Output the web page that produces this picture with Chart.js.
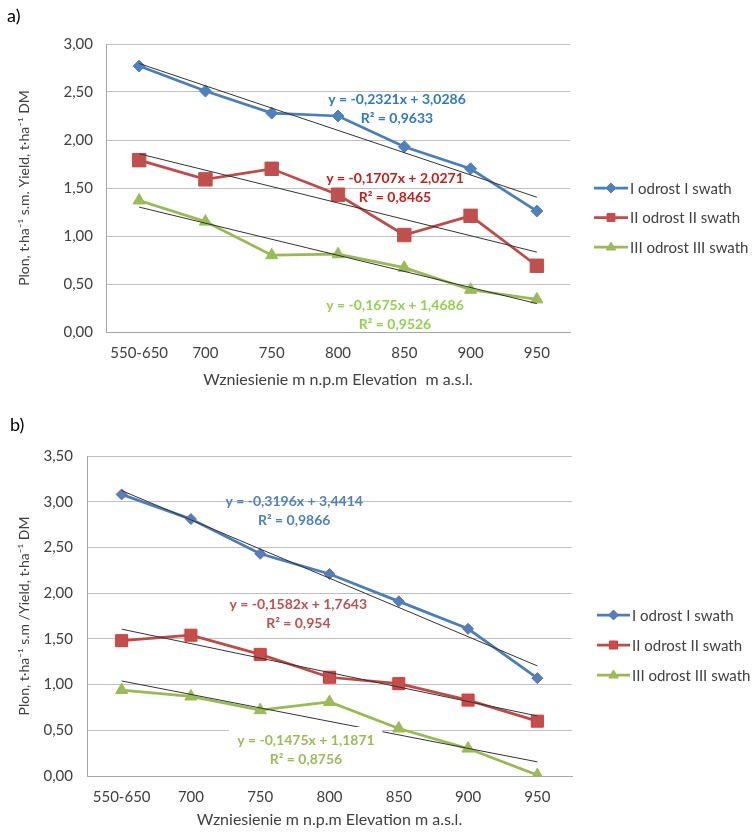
<!DOCTYPE html>
<html>
<head>
<meta charset="utf-8">
<script src="https://cdn.jsdelivr.net/npm/chart.js@4/dist/chart.umd.min.js"></script>
<style>
  html, body { margin: 0; padding: 0; background: #ffffff; }
  .panel { width: 752px; position: relative; }
  canvas { display: block; }
</style>
</head>
<body>
<div class="panel" style="height:400px"><canvas id="chartA" width="752" height="400"></canvas></div>
<div class="panel" style="height:432px"><canvas id="chartB" width="752" height="432"></canvas></div>
<script>
// Elevation classes (m a.s.l.)
const categories = ['550-650', '700', '750', '800', '850', '900', '950'];
const seriesNames = ['I odrost I swath', 'II odrost II swath', 'III odrost III swath'];

// Panel a) yields, t/ha DM
const yieldA1 = [2.77, 2.51, 2.28, 2.25, 1.93, 1.70, 1.26];
const yieldA2 = [1.79, 1.59, 1.70, 1.43, 1.01, 1.21, 0.69];
const yieldA3 = [1.37, 1.15, 0.80, 0.81, 0.67, 0.44, 0.34];
// linear trend: [slope, intercept, R²]
const trendA1 = [-0.2321, 3.0286, 0.9633];
const trendA2 = [-0.1707, 2.0271, 0.8465];
const trendA3 = [-0.1675, 1.4686, 0.9526];
const yTicksA = [0, 0.5, 1, 1.5, 2, 2.5, 3];

// Panel b) yields, t/ha DM
const yieldB1 = [3.08, 2.81, 2.43, 2.21, 1.91, 1.61, 1.07];
const yieldB2 = [1.48, 1.54, 1.33, 1.08, 1.01, 0.83, 0.60];
const yieldB3 = [0.94, 0.87, 0.72, 0.81, 0.52, 0.30, 0.01];
const trendB1 = [-0.3196, 3.4414, 0.9866];
const trendB2 = [-0.1582, 1.7643, 0.954];
const trendB3 = [-0.1475, 1.1871, 0.8756];
const yTicksB = [0, 0.5, 1, 1.5, 2, 2.5, 3, 3.5];

const FONT = 'Lato';
const TEXT = '#404040';
const lineColors = ['#4a7ebb', '#be4b48', '#98b954'];
const markerFills = ['#4f81bd', '#c0504d', '#9bbb59'];
const markerStyles = ['rectRot', 'rect', 'triangle'];

const fmt = v => String(v).replace('.', ',');
const eqLines = t => ['y = ' + fmt(t[0]) + 'x + ' + fmt(t[1]), 'R\u00b2 = ' + fmt(t[2])];
// trend line evaluated at the first and last class (x = 1 .. n)
const trendPoints = t => categories.map((c, i) =>
  (i === 0 || i === categories.length - 1) ? +(t[1] + t[0] * (i + 1)).toFixed(4) : null);

function drawMarker(ctx, style, x, y, r, fill, stroke) {
  ctx.save();
  ctx.fillStyle = fill;
  ctx.strokeStyle = stroke;
  ctx.lineWidth = 1;
  ctx.beginPath();
  if (style === 'rectRot') {
    ctx.moveTo(x, y - r); ctx.lineTo(x + r, y); ctx.lineTo(x, y + r); ctx.lineTo(x - r, y);
  } else if (style === 'rect') {
    ctx.rect(x - r * 0.8, y - r * 0.8, r * 1.6, r * 1.6);
  } else {
    ctx.moveTo(x, y - r); ctx.lineTo(x + r * 0.95, y + r * 0.6); ctx.lineTo(x - r * 0.95, y + r * 0.6);
  }
  ctx.closePath();
  ctx.fill();
  ctx.stroke();
  ctx.restore();
}

const decoPlugin = {
  id: 'deco',
  afterDatasetDraw(chart, args, opts) {
    const ds = chart.data.datasets[args.index];
    if (!opts.mask || !ds.isTrend) return;
    const { x, y } = chart.scales;
    const m = opts.mask;
    const l = x.getPixelForValue(m.x0), r = x.getPixelForValue(m.x1);
    const t = y.getPixelForValue(m.y1), b = y.getPixelForValue(m.y0);
    const ctx = chart.ctx;
    ctx.save();
    ctx.fillStyle = '#ffffff';
    ctx.fillRect(l, t, r - l, b - t);
    ctx.restore();
  },
  afterDatasetsDraw(chart, args, opts) {
    const { x, y } = chart.scales;
    const ctx = chart.ctx;
    ctx.save();
    ctx.font = 'bold 14px ' + FONT;
    ctx.textAlign = 'center';
    ctx.textBaseline = 'middle';
    opts.equations.forEach(eq => {
      const px = x.getPixelForValue(eq.at[0]);
      const py = y.getPixelForValue(eq.at[1]);
      const lines = eqLines(eq.trend);
      ctx.fillStyle = eq.color;
      ctx.fillText(lines[0], px, py);
      ctx.fillText(lines[1], px, py + 19);
    });
    ctx.restore();
  },
  afterDraw(chart, args, opts) {
    const ctx = chart.ctx;
    ctx.save();
    // panel letter
    ctx.font = '18px ' + FONT;
    ctx.fillStyle = '#000000';
    ctx.textAlign = 'left';
    ctx.textBaseline = 'middle';
    ctx.fillText(opts.letter.text, opts.letter.x, opts.letter.y);
    // legend: line sample with marker, then name
    const lg = opts.legend;
    ctx.font = '15px ' + FONT;
    seriesNames.forEach((name, i) => {
      const yy = lg.y + i * lg.gap;
      ctx.strokeStyle = lineColors[i];
      ctx.lineWidth = 2.75;
      ctx.beginPath();
      ctx.moveTo(lg.x, yy);
      ctx.lineTo(lg.x + lg.len, yy);
      ctx.stroke();
      drawMarker(ctx, markerStyles[i], lg.x + lg.len / 2, yy, 5, markerFills[i], opts.markerBorders[i]);
      ctx.fillStyle = TEXT;
      ctx.textAlign = 'left';
      ctx.fillText(name, lg.x + lg.len + 2, yy + 1);
    });
    ctx.restore();
  }
};

function buildChart(id, cfg) {
  const datasets = [];
  cfg.series.forEach((vals, i) => {
    datasets.push({
      label: seriesNames[i],
      data: vals,
      borderColor: lineColors[i],
      backgroundColor: markerFills[i],
      borderWidth: 2.75,
      tension: 0,
      pointStyle: markerStyles[i],
      pointRadius: cfg.markerRadius[i],
      pointBackgroundColor: markerFills[i],
      pointBorderColor: cfg.markerBorders[i],
      pointBorderWidth: 1,
      order: 2
    });
  });
  cfg.trends.forEach(t => {
    datasets.push({
      label: 'trend',
      isTrend: true,
      data: trendPoints(t),
      borderColor: '#333333',
      borderWidth: 1,
      pointRadius: 0,
      spanGaps: true,
      tension: 0,
      order: 1
    });
  });

  return new Chart(document.getElementById(id), {
    type: 'line',
    data: { labels: categories, datasets },
    plugins: [decoPlugin],
    options: {
      responsive: false,
      animation: false,
      devicePixelRatio: 1,
      layout: { padding: cfg.padding },
      scales: {
        x: {
          type: 'category',
          offset: true,
          grid: { display: false, drawTicks: false },
          border: { display: true, color: '#a6a6a6', width: 1 },
          ticks: { padding: 12, color: TEXT, font: { family: FONT, size: 15 } },
          title: {
            display: true, text: cfg.xTitle, color: TEXT,
            font: { family: FONT, size: 16 }, padding: { top: 0, bottom: cfg.xTitlePad }
          },
          afterFit: s => { s.height = cfg.xHeight; }
        },
        y: {
          min: 0,
          max: cfg.yTicks[cfg.yTicks.length - 1],
          afterBuildTicks: s => { s.ticks = cfg.yTicks.map(v => ({ value: v })); },
          grid: { color: '#c0c0c0', lineWidth: 1, drawTicks: false },
          border: { display: true, color: '#a6a6a6', width: 1 },
          ticks: {
            padding: cfg.yTickPad, color: TEXT, font: { family: FONT, size: 15 },
            callback: v => v.toFixed(2).replace('.', ',')
          },
          title: {
            display: true, text: cfg.yTitle, color: TEXT,
            font: { family: FONT, size: 14 }, padding: { top: cfg.yTitlePad, bottom: 0 }
          },
          afterFit: s => { s.width = cfg.yWidth; }
        }
      },
      plugins: {
        legend: { display: false },
        tooltip: { enabled: false },
        deco: {
          letter: cfg.letter,
          legend: cfg.legend,
          markerBorders: cfg.markerBorders,
          equations: cfg.equations,
          mask: cfg.mask || null
        }
      }
    }
  });
}

buildChart('chartA', {
  series: [yieldA1, yieldA2, yieldA3],
  trends: [trendA1, trendA2, trendA3],
  yTicks: yTicksA,
  padding: { left: 0, top: 44, right: 182, bottom: 0 },
  xHeight: 68, xTitlePad: 11,
  yWidth: 106, yTickPad: 13, yTitlePad: 16,
  xTitle: 'Wzniesienie m n.p.m Elevation  m a.s.l.',
  yTitle: 'Plon, t\u00b7ha\u207b\u00b9 s.m. Yield, t\u00b7ha\u207b\u00b9 DM',
  markerRadius: [6, 9.5, 7],
  markerBorders: ['#4f81bd', '#c0504d', '#9bbb59'],
  letter: { text: 'a)', x: 7, y: 16 },
  legend: { x: 594, y: 188, gap: 29.5, len: 34 },
  equations: [
    { trend: trendA1, at: [3.89, 2.42], color: '#2f78c4' },
    { trend: trendA2, at: [3.86, 1.594], color: '#c0201e' },
    { trend: trendA3, at: [3.86, 0.271], color: '#92d050' }
  ]
});

buildChart('chartB', {
  series: [yieldB1, yieldB2, yieldB3],
  trends: [trendB1, trendB2, trendB3],
  yTicks: yTicksB,
  padding: { left: 0, top: 56, right: 180, bottom: 0 },
  xHeight: 56, xTitlePad: 3,
  yWidth: 87, yTickPad: 14, yTitlePad: 16,
  xTitle: 'Wzniesienie m n.p.m Elevation m a.s.l.',
  yTitle: 'Plon, t\u00b7ha\u207b\u00b9 s.m /Yield, t\u00b7ha\u207b\u00b9 DM',
  markerRadius: [5.5, 8.5, 7],
  markerBorders: ['#7f64a2', '#e8302c', '#9bbb59'],
  letter: { text: 'b)', x: 10, y: 25 },
  legend: { x: 597, y: 215, gap: 30, len: 33 },
  equations: [
    { trend: trendB1, at: [2.49, 3.00], color: '#4f81bd' },
    { trend: trendB2, at: [2.55, 1.88], color: '#c0504d' },
    { trend: trendB3, at: [2.66, 0.39], color: '#9bbb59' }
  ],
  mask: { x0: 1.55, x1: 3.76, y0: 0.07, y1: 0.535 }
});
</script>
</body>
</html>
